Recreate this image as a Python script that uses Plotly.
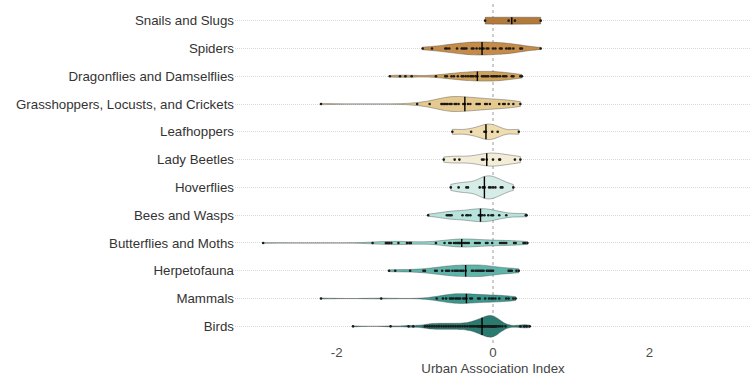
import numpy as np
import plotly.graph_objects as go

categories = ["Snails and Slugs", "Spiders", "Dragonflies and Damselflies",
              "Grasshoppers, Locusts, and Crickets", "Leafhoppers", "Lady Beetles",
              "Hoverflies", "Bees and Wasps", "Butterflies and Moths",
              "Herpetofauna", "Mammals", "Birds"]

snails = [-0.10, 0.20, 0.28, 0.61]
spiders = [-0.90, -0.78, -0.61, -0.59, -0.56, -0.46, -0.40, -0.38, -0.36, -0.34,
           -0.27, -0.25, -0.21, -0.17, -0.14, -0.12, -0.08, -0.06, 0.00, 0.03,
           0.09, 0.11, 0.17, 0.20, 0.22, 0.26, 0.35, 0.37, 0.61]
dragonflies = [-1.32, -1.19, -1.12, -1.04, -0.73, -0.61, -0.59, -0.53, -0.50, -0.45,
               -0.40, -0.38, -0.35, -0.32, -0.29, -0.27, -0.25, -0.22, -0.20, -0.14,
               -0.12, -0.10, -0.08, -0.06, -0.02, 0.00, 0.02, 0.04, 0.06, 0.09,
               0.13, 0.15, 0.17, 0.24, 0.26, 0.35, 0.37]
grasshoppers = [-2.20, -0.97, -0.81, -0.66, -0.64, -0.62, -0.60, -0.58, -0.55, -0.53,
                -0.49, -0.47, -0.44, -0.38, -0.36, -0.32, -0.29, -0.21, -0.19, -0.17,
                -0.10, -0.08, -0.04, 0.08, 0.13, 0.15, 0.20, 0.26, 0.35]
leafhoppers = [-0.52, -0.28, -0.11, -0.09, -0.01, 0.06, 0.33]
ladybeetles = [-0.63, -0.49, -0.43, -0.14, -0.12, -0.08, 0.00, 0.08, 0.09, 0.28, 0.35]
hoverflies = [-0.54, -0.44, -0.34, -0.32, -0.17, -0.13, -0.11, -0.11, -0.05, -0.03,
              0.00, 0.03, 0.10, 0.12, 0.26]
bees = [-0.83, -0.59, -0.57, -0.55, -0.53, -0.39, -0.34, -0.32, -0.29, -0.18,
        -0.16, -0.16, -0.14, -0.11, -0.06, -0.02, 0.00, 0.08, 0.17, 0.42, 0.43]
butterflies = [-2.94, -1.54, -1.37, -1.35, -1.33, -1.30, -1.21, -1.10, -1.07, -1.05,
               -0.73, -0.62, -0.56, -0.54, -0.50, -0.48, -0.47, -0.45, -0.44, -0.43,
               -0.42, -0.40, -0.37, -0.35, -0.33, -0.31, -0.23, -0.21, -0.19, -0.17,
               -0.09, -0.07, -0.01, 0.09, 0.11, 0.13, 0.15, 0.17, 0.27, 0.29,
               0.39, 0.41, 0.44]
herpetofauna = [-1.33, -1.25, -1.06, -0.89, -0.87, -0.74, -0.72, -0.65, -0.60, -0.58,
                -0.56, -0.52, -0.49, -0.47, -0.45, -0.42, -0.40, -0.38, -0.35, -0.27,
                -0.25, -0.22, -0.20, -0.18, -0.16, -0.14, -0.12, -0.08, -0.06, -0.04,
                -0.02, 0.00, 0.20, 0.22, 0.24, 0.30, 0.33]
mammals = [-2.20, -1.43, -0.72, -0.64, -0.60, -0.55, -0.53, -0.51, -0.48, -0.46,
           -0.44, -0.42, -0.38, -0.36, -0.34, -0.29, -0.27, -0.19, -0.17, -0.10,
           -0.05, -0.02, 0.00, 0.03, 0.08, 0.17, 0.20, 0.26, 0.29]
birds = [-1.79, -1.31, -1.08, -1.02,
         -0.87, -0.84, -0.81, -0.78, -0.75, -0.72, -0.69, -0.66, -0.63, -0.60,
         -0.57, -0.54, -0.51, -0.48, -0.45, -0.42,
         -0.39, -0.36, -0.33, -0.30, -0.28, -0.26, -0.24, -0.22, -0.20, -0.19,
         -0.18, -0.17, -0.16, -0.15, -0.14,
         -0.13, -0.12, -0.11, -0.10, -0.09, -0.08, -0.07, -0.06, -0.05, -0.04,
         -0.03, -0.03, -0.02, -0.02, -0.01, -0.01, 0.00, 0.00, 0.00, 0.01,
         0.01, 0.02, 0.02, 0.03, 0.04, 0.05, 0.07, 0.09, 0.12, 0.16,
         0.35, 0.40, 0.43, 0.47]

series = [snails, spiders, dragonflies, grasshoppers, leafhoppers, ladybeetles,
          hoverflies, bees, butterflies, herpetofauna, mammals, birds]

fill_colors = ["#B27B3C", "#C48C48", "#CFA058", "#E6C98E", "#EFDDB0", "#F3ECD6",
               "#D5EDE6", "#B6E3DB", "#8FD3C8", "#5DB5AA", "#3A978D", "#2A7A70"]
violin_heights = [0.25, 0.47, 0.35, 0.54, 0.56, 0.47, 0.83, 0.47, 0.29, 0.42, 0.35, 0.78]
bw_override = {0: 1.5}
bw_adjust = {11: 0.6}


def nrd0(v):
    v = np.asarray(v)
    sd = np.std(v, ddof=1)
    q75, q25 = np.percentile(v, [75, 25])
    lo = min(sd, (q75 - q25) / 1.34) if q75 > q25 else sd
    return 0.9 * lo * len(v) ** -0.2


def kde(v, bw, x):
    v = np.asarray(v)[:, None]
    return np.exp(-0.5 * ((x[None, :] - v) / bw) ** 2).sum(axis=0)


n_cat = len(categories)
fig = go.Figure()
median_lines = []
for i, (name, vals, col, h) in enumerate(zip(categories, series, fill_colors, violin_heights)):
    ypos = n_cat - 1 - i
    bw = bw_override.get(i, nrd0(vals) * bw_adjust.get(i, 1.0))
    fig.add_trace(go.Violin(
        x=vals, y=[ypos] * len(vals), orientation="h", name=name,
        fillcolor=col, opacity=1,
        line=dict(color="rgba(70,70,70,0.4)", width=1),
        bandwidth=bw, spanmode="hard", width=h, scalemode="width",
        points="all", pointpos=0, jitter=0,
        marker=dict(color="#1a1a1a", size=2.6, line=dict(width=0)),
        box=dict(visible=False), meanline=dict(visible=False),
        hoveron="violins+points", showlegend=False,
    ))
    med = float(np.median(vals))
    grid = np.linspace(min(vals), max(vals), 400)
    dens = kde(vals, bw, grid)
    half = h / 2 * kde(vals, bw, np.array([med]))[0] / dens.max()
    median_lines.append((med, ypos, half))

for med, ypos, half in median_lines:
    fig.add_trace(go.Scatter(x=[med, med], y=[ypos - half, ypos + half], mode="lines",
                             line=dict(color="black", width=1.4), showlegend=False,
                             hoverinfo="skip"))

fig.add_shape(type="line", xref="x", yref="paper", x0=0, x1=0, y0=0, y1=1,
              line=dict(color="#8f8f8f", width=0.9, dash="3px,3px"), layer="below")

font_family = "Liberation Sans, Arial, Helvetica, sans-serif"
fig.update_layout(
    width=754, height=377,
    margin=dict(l=235, r=3, t=4, b=31),
    plot_bgcolor="white", paper_bgcolor="white",
    showlegend=False,
    violinmode="overlay",
    font=dict(family=font_family, size=13.3, color="#444444"),
    xaxis=dict(range=[-3.3, 3.3], tickvals=[-2, 0, 2], ticktext=["-2", "0", "2"],
               showgrid=False, zeroline=False, showline=False,
               tickfont=dict(size=13.3, color="#4d4d4d"),
               title=dict(text="Urban Association Index", standoff=4,
                          font=dict(size=13.3, color="#444444"))),
    yaxis=dict(range=[-0.6, n_cat - 0.4], tickvals=list(range(n_cat)),
               ticktext=categories[::-1], showgrid=True, gridcolor="#d9d9d9",
               griddash="1px,1px", gridwidth=1, zeroline=False, showline=False,
               tickfont=dict(size=13.3, color="#333333")),
)

fig.write_html("out.html", config={"displayModeBar": False},
               post_script="document.body.style.margin='0';document.body.style.overflow='hidden';")
